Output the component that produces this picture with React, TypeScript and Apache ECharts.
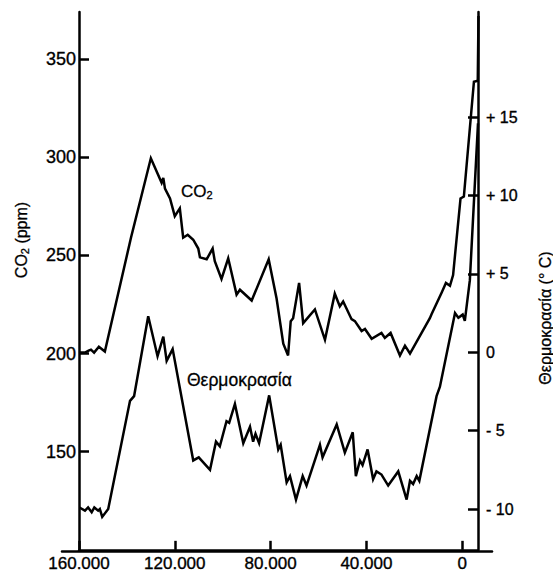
import React, { useEffect, useRef } from "react";
import * as echarts from "echarts";

// Time in thousands of years before present
const co2Years = [159.8, 157.5, 156, 155, 153.7, 151.7, 149.2, 138.3, 130, 125.5, 124.8, 124.1, 122, 120, 117.9, 116.5, 114.6, 112.3, 110.2, 109.5, 106.7, 104.2, 103.3, 100.5, 97.7, 94.2, 92.8, 87.9, 80.8, 77.5, 74.7, 72.7, 71.6, 70.6, 68.1, 66.4, 61.5, 57.3, 53.2, 51.1, 49.7, 46.2, 44.8, 42, 40.6, 37.8, 33.7, 32.3, 29.9, 26, 23.9, 21.8, 13.5, 12.8, 8.6, 6.8, 5.1, 3.8, 0.7, -0.7, -4.9, -6.5, -6.8];
const co2Ppm = [200.5, 200.5, 201.5, 202, 200.5, 203.5, 201, 259, 299.5, 287, 289.5, 284, 279, 270, 274, 259, 260.5, 258, 253.5, 249, 248, 253.5, 247, 238, 248.5, 230, 232.5, 227, 248, 228, 205, 199, 216.5, 218, 236, 215.5, 222.5, 207, 230.5, 224, 226.5, 217.5, 216.5, 211.5, 212.5, 207.5, 210.5, 208, 210.5, 199, 204, 200, 218, 220, 231, 236, 234.5, 240, 279, 280, 338.5, 339, 372];

const tempYears = [159.8, 157.5, 156.2, 154.7, 153.6, 152, 151.3, 150.3, 147.8, 138.7, 137, 131.1, 127.2, 124.8, 123.4, 120.9, 112.3, 110, 105.3, 102.8, 101.2, 98.4, 97.3, 94.9, 91.4, 88.6, 87.3, 86.3, 84.8, 80.6, 76.8, 75.8, 73.3, 71.9, 69.4, 66.6, 65, 59.4, 58.3, 52.4, 49, 45.7, 44.4, 42.7, 41.6, 39.5, 37.2, 35.8, 33.7, 30.9, 26.7, 23.2, 21.8, 20.5, 19, 17.9, 10.7, 9.3, 3, 1.6, -0.2, -1.1, -3.2, -6.6];
const tempC = [-9.9, -10.1, -9.9, -10.2, -9.9, -10.1, -10, -10.5, -10, -3.1, -2.8, 2.3, -0.25, 1, -0.55, 0.2, -6.9, -6.7, -7.5, -5.7, -6, -4.4, -4.5, -3.3, -5.8, -4.75, -5.7, -5.2, -5.8, -2.75, -6.2, -5.9, -8.3, -7.9, -9.4, -7.9, -8.5, -5.9, -6.7, -4.6, -6.4, -5.1, -7.9, -6.9, -7.2, -6.2, -8.1, -7.6, -7.8, -8.5, -7.6, -9.4, -8.2, -8.4, -7.9, -8.2, -2.8, -2.2, 2.5, 2.2, 2.4, 2, 4.6, 14.6];

const xTicks = [160, 120, 80, 40, 0];
const co2Ticks = [150, 200, 250, 300, 350];
const tempTicks = [-10, -5, 0, 5, 10, 15];

const FONT = "'Liberation Sans', Arial, Helvetica, sans-serif";
const INK = "#000";

function zip(xs: number[], ys: number[]) {
  const n = Math.min(xs.length, ys.length);
  const out: number[][] = [];
  for (let i = 0; i < n; i++) out.push([xs[i], ys[i]]);
  return out;
}

export default function App() {
  const ref = useRef<HTMLDivElement>(null);
  useEffect(() => {
    document.body.style.margin = "0";
    if (!ref.current) return;
    const chart = echarts.init(ref.current, undefined, { renderer: "svg" });
    const lineW = 2.5;
    const lbl = { color: INK, fontFamily: FONT, textBorderColor: INK, textBorderWidth: 0.35 };
    const gtxt = { fill: INK, fontFamily: FONT, stroke: INK, lineWidth: 0.3 };
    chart.setOption({
      animation: false,
      backgroundColor: "#ffffff",
      grid: [
        { left: 79, right: 75, top: 12, bottom: 21 },
        { left: 62, right: 61, top: 12, bottom: 21 },
      ],
      xAxis: [
        {
          type: "value",
          gridIndex: 0,
          inverse: true,
          min: -6.6,
          max: 160,
          splitLine: { show: false },
          axisLine: { onZero: false, lineStyle: { color: INK, width: lineW } },
          axisTick: { show: true, inside: true, length: 9, customValues: xTicks, lineStyle: { color: INK, width: lineW } },
          axisLabel: {
            ...lbl,
            customValues: xTicks,
            margin: 5,
            fontSize: 17,
            formatter: (v: number) => (v === 0 ? "0" : v + ".000"),
          },
        },
        {
          type: "value",
          gridIndex: 1,
          min: 0,
          max: 1,
          splitLine: { show: false },
          axisLine: { onZero: false, lineStyle: { color: INK, width: lineW } },
          axisTick: { show: false },
          axisLabel: { show: false },
        },
      ],
      yAxis: [
        {
          type: "value",
          gridIndex: 0,
          min: 100,
          max: 374,
          splitLine: { show: false },
          axisLine: { show: true, onZero: false, lineStyle: { color: INK, width: lineW } },
          axisTick: { show: true, inside: true, length: 10, customValues: co2Ticks, lineStyle: { color: INK, width: lineW } },
          axisLabel: { ...lbl, customValues: co2Ticks, margin: 3, fontSize: 18 },
        },
        {
          type: "value",
          gridIndex: 0,
          position: "right",
          min: -12.6,
          max: 21.7,
          splitLine: { show: false },
          axisLine: { show: true, onZero: false, lineStyle: { color: INK, width: lineW } },
          axisTick: { show: true, inside: true, length: 10, customValues: tempTicks, lineStyle: { color: INK, width: lineW } },
          axisLabel: {
            ...lbl,
            customValues: tempTicks,
            margin: 8,
            fontSize: 16,
            formatter: (v: number) => (v > 0 ? "+ " + v : v < 0 ? "- " + -v : "0"),
          },
        },
        {
          type: "value",
          gridIndex: 1,
          min: 0,
          max: 1,
          show: false,
        },
      ],
      graphic: [
        {
          type: "text",
          x: 21,
          y: 240,
          rotation: Math.PI / 2,
          style: {
            text: "{a|CO}{s|2}{a| (ppm)}",
            align: "center",
            verticalAlign: "middle",
            ...gtxt,
            rich: {
              a: { fontSize: 16 },
              s: { fontSize: 11, padding: [7, 0, 0, 0] },
            },
          },
        },
        {
          type: "text",
          x: 545,
          y: 318,
          rotation: Math.PI / 2,
          style: {
            text: "Θερμοκρασία (° C)",
            align: "center",
            verticalAlign: "middle",
            fontSize: 16,
            ...gtxt,
          },
        },
        {
          type: "text",
          x: 181,
          y: 191,
          style: {
            text: "{a|CO}{s|2}",
            align: "left",
            verticalAlign: "middle",
            ...gtxt,
            rich: {
              a: { fontSize: 17 },
              s: { fontSize: 11, padding: [8, 0, 0, 0] },
            },
          },
        },
        {
          type: "text",
          x: 187,
          y: 380,
          style: {
            text: "Θερμοκρασία",
            align: "left",
            verticalAlign: "middle",
            fontSize: 17.5,
            ...gtxt,
          },
        },
      ],
      series: [
        {
          type: "line",
          xAxisIndex: 0,
          yAxisIndex: 0,
          clip: false,
          data: zip(co2Years, co2Ppm),
          symbol: "none",
          lineStyle: { color: INK, width: lineW, join: "miter" },
        },
        {
          type: "line",
          xAxisIndex: 0,
          yAxisIndex: 1,
          clip: false,
          data: zip(tempYears, tempC),
          symbol: "none",
          lineStyle: { color: INK, width: lineW, join: "miter" },
        },
      ],
    });
    return () => chart.dispose();
  }, []);
  return <div ref={ref} style={{ width: 553, height: 572 }} />;
}
